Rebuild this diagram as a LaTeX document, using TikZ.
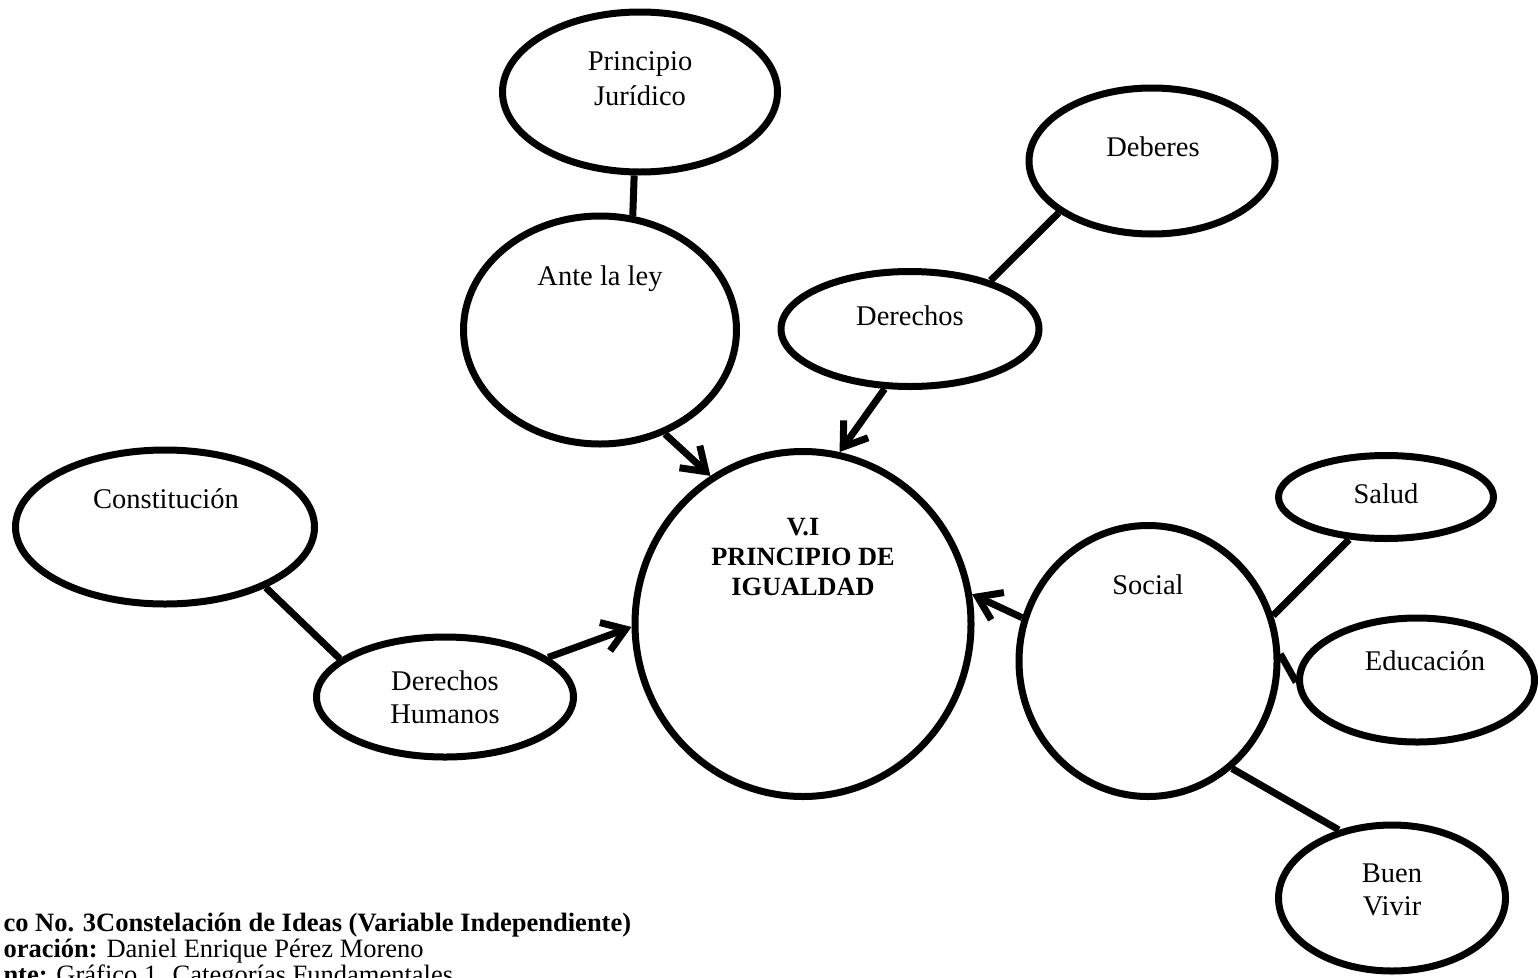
\documentclass[tikz,border=0pt]{standalone}
\usepackage{fontspec}
\setmainfont{Liberation Serif}
\usetikzlibrary{shapes.geometric,arrows.meta}
\begin{document}
\begin{tikzpicture}[x=1pt,y=-1pt,line width=7pt,
  bub/.style={draw=black,ellipse,inner sep=0pt,line width=7pt},
  lbl/.style={inner sep=0pt,anchor=base,font=\fontsize{28.5}{34}\selectfont},
  blbl/.style={inner sep=0pt,anchor=base,font=\fontsize{26.3}{30}\selectfont\bfseries},
  captxt/.style={inner sep=0pt,anchor=base west,font=\fontsize{26.5}{26.5}\selectfont},
  link/.style={draw=black,line width=7pt},
  arr/.style={link,-{Straight Barb[length=22pt,width=30pt]}}]
\useasboundingbox (0,0) rectangle (1538,977);
% bubbles
\node[bub,minimum width=275pt,minimum height=160pt] (pj) at (640,92) {};
\node[bub,minimum width=246pt,minimum height=146pt] (deb) at (1152,161) {};
\node[bub,minimum width=273pt,minimum height=228pt] (ante) at (600,330) {};
\node[bub,minimum width=258pt,minimum height=115pt] (der) at (910,329) {};
\node[bub,minimum width=336pt,minimum height=345pt] (main) at (803,624) {};
\node[bub,minimum width=299pt,minimum height=154pt] (const) at (165,527) {};
\node[bub,minimum width=257pt,minimum height=120pt] (dh) at (445,697) {};
\node[bub,minimum width=258pt,minimum height=271pt] (soc) at (1148,661) {};
\node[bub,minimum width=215pt,minimum height=83pt] (sal) at (1386,497) {};
\node[bub,minimum width=235pt,minimum height=124pt] (edu) at (1417,680) {};
\node[bub,minimum width=227pt,minimum height=146pt] (buen) at (1392,898) {};
% labels
\node[lbl] (tpj1) at (640,70) {Principio};
\node[lbl] (tpj2) at (640,105) {Jurídico};
\node[lbl] (tdeb) at (1153,156) {Deberes};
\node[lbl] (tante) at (600,285) {Ante la ley};
\node[lbl] (tder) at (910,325) {Derechos};
\node[blbl] (tm1) at (803,535) {V.I};
\node[blbl] (tm2) at (803,565) {PRINCIPIO DE};
\node[blbl] (tm3) at (803,595) {IGUALDAD};
\node[lbl] (tconst) at (166,508) {Constitución};
\node[lbl] (tdh1) at (445,690) {Derechos};
\node[lbl] (tdh2) at (445,723) {Humanos};
\node[lbl] (tsoc) at (1148,594) {Social};
\node[lbl] (tsal) at (1386,503) {Salud};
\node[lbl] (tedu) at (1425,670) {Educación};
\node[lbl] (tb1) at (1392,882) {Buen};
\node[lbl] (tb2) at (1392,915) {Vivir};
% connectors
\draw[link] (pj.-94) -- (ante.74);
\draw[link] (deb.-151) -- (der.31);
\draw[arr] (ante.-58) -- (main.122);
\draw[arr] (der.-113) -- (main.78);
\draw[link] (const.-31) -- (dh.160);
\draw[arr] (dh.21) -- (main.181);
\draw[arr] (soc.161) -- (main.10);
\draw[link] (soc.20) -- (sal.-131);
\draw[link] (soc.3) -- (edu.181);
\draw[link] (soc.-52) -- (buen.128);
% caption
\node[captxt] (c1) at (0,931) {\bfseries co No. 3Constelación de Ideas (Variable Independiente)};
\node[captxt] (c2) at (0,957) {\textbf{oración:} Daniel Enrique Pérez Moreno};
\node[captxt] (c3) at (0,983) {\textbf{nte:} Gráfico 1. Categorías Fundamentales};
\end{tikzpicture}
\end{document}
